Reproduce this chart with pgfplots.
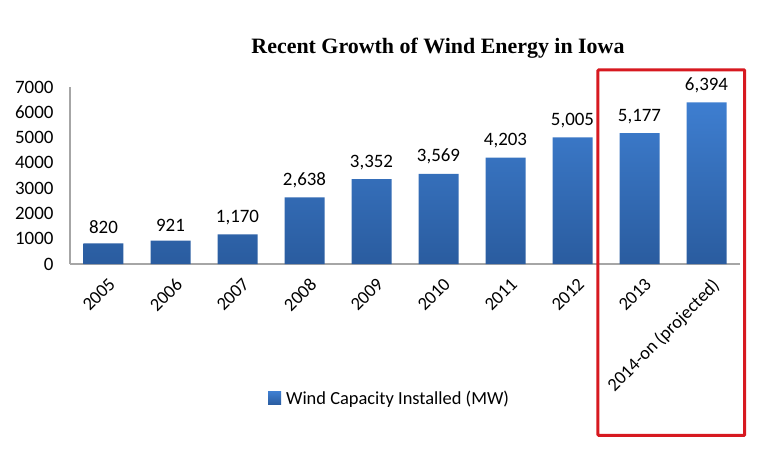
\documentclass[border=0pt]{standalone}
\usepackage{pgfplots}
\pgfplotsset{compat=1.18}
\usepackage{fontspec}
\setmainfont{Carlito}
\newfontfamily\titlefont{Liberation Serif}
\definecolor{bartop}{HTML}{3E7ED0}
\definecolor{barbot}{HTML}{2A5C9F}
\definecolor{axgray}{HTML}{A6A6A6}
\definecolor{boxred}{HTML}{D71920}
\begin{document}
\begin{tikzpicture}[x=1bp,y=1bp]
\useasboundingbox (-70bp,-188bp) rectangle (698bp,264bp);
\begin{axis}[
  at={(0,0)}, anchor=south west,
  scale only axis, width=670bp, height=177bp,
  xmin=-0.5, xmax=9.5, ymin=0, ymax=7000,
  ytick={0,1000,...,7000},
  xtick={0,...,9},
  xticklabels={2005,2006,2007,2008,2009,2010,2011,2012,2013,2014-on (projected)},
  x tick label style={rotate=45, anchor=north east, font=\fontsize{18.5}{20}\selectfont, inner sep=1pt, yshift=-8bp, xshift=-2bp},
  y tick label style={font=\fontsize{19}{21}\selectfont, color=black},
  /pgf/number format/assume math mode=true,
  yticklabel={\pgfmathprintnumber[1000 sep={}]{\tick}},
  ytick style={draw=none}, xtick style={draw=none},
  yticklabel style={xshift=-13bp},
  axis lines*=left,
  axis line style={draw=axgray, line width=1.2bp, -},
  ybar, bar width=40bp,
  nodes near coords,
  nodes near coords style={font=\fontsize{19}{21}\selectfont, color=black, /pgf/number format/1000 sep={,}, yshift=6bp},
  clip=false,
  legend style={draw=none, at={(axis cs:4.27,-5330)}, anchor=center, font=\fontsize{18.5}{20}\selectfont},
  legend image code/.code={\fill[bartop] (0bp,-6bp) rectangle (13bp,7bp);},
  legend cell align=left,
]
\addplot[draw=none, top color=bartop, bottom color=barbot] coordinates {
 (0,820) (1,921) (2,1170) (3,2638) (4,3352) (5,3569) (6,4203) (7,5005) (8,5177) (9,6394)};
\addlegendentry{\hspace{3bp}Wind Capacity Installed (MW)}
\draw[boxred, line width=3bp, rounded corners=1bp] (axis cs:7.38,7680) rectangle (axis cs:9.57,-6780);
\end{axis}
\node[font=\titlefont\bfseries\fontsize{22}{24}\selectfont] at (368bp,216bp) {Recent Growth of Wind Energy in Iowa};
\end{tikzpicture}
\end{document}
